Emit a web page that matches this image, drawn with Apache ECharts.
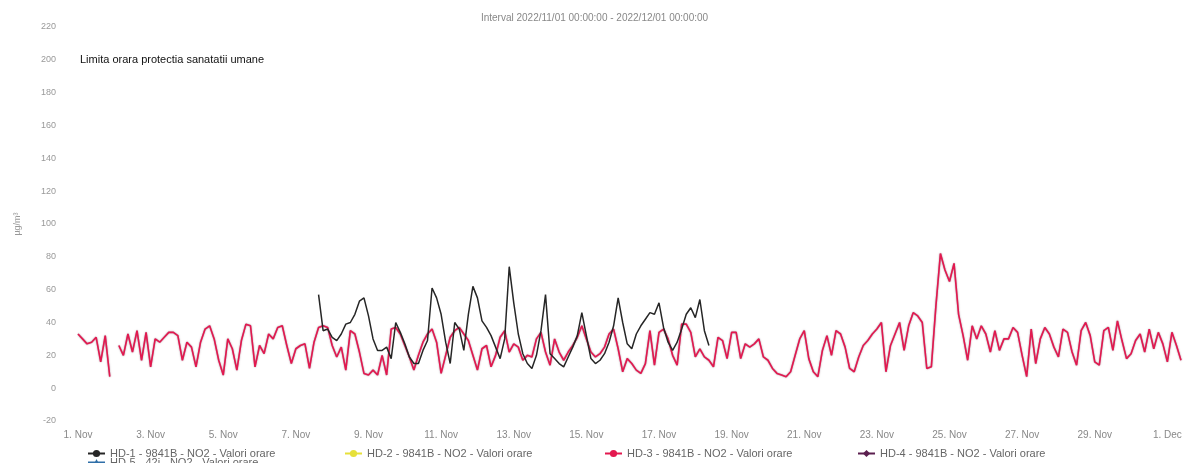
<!DOCTYPE html>
<html>
<head>
<meta charset="utf-8">
<script src="https://cdn.jsdelivr.net/npm/echarts@6/dist/echarts.min.js"></script>
<style>
html,body{margin:0;padding:0;background:#fff;}
#chart{width:1189px;height:463px;}
</style>
</head>
<body>
<div id="chart"></div>
<script>
// Hourly NO2 values sampled every 3 hours from 2022/11/01 00:00
const stepHours = 3;
const tickLabels = ['1. Nov','3. Nov','5. Nov','7. Nov','9. Nov','11. Nov','13. Nov','15. Nov','17. Nov','19. Nov','21. Nov','23. Nov','25. Nov','27. Nov','29. Nov','1. Dec'];
const seriesNames = [
  'HD-1 - 9841B - NO2 - Valori orare',
  'HD-2 - 9841B - NO2 - Valori orare',
  'HD-3 - 9841B - NO2 - Valori orare',
  'HD-4 - 9841B - NO2 - Valori orare',
  'HD-5 - 42i - NO2 - Valori orare'
];
const hd3 = [
  33,30,27,28,31,16,32,7,
  null,26,20,33,22,35,17,34,
  13,30,28,31,34,34,32,17,
  28,25,13,28,36,38,30,17,
  8,30,24,11,29,39,38,13,
  26,21,33,30,37,38,26,15,
  24,26,27,12,28,37,38,37,
  26,19,25,11,35,33,22,9,
  8,11,8,20,8,36,37,33,
  26,19,11,20,28,33,36,28,
  9,20,31,35,37,33,29,20,
  11,24,26,13,20,31,35,22,
  27,25,17,20,19,30,34,22,
  14,30,22,17,22,26,31,38,
  30,22,19,21,25,33,36,24,
  10,18,15,11,9,15,35,14,
  34,36,30,20,14,39,39,34,
  19,24,19,17,13,31,29,18,
  34,34,18,27,25,27,30,19,
  17,12,9,8,7,10,20,30,
  35,18,10,7,23,32,20,35,
  33,25,12,10,19,26,29,33,
  36,40,10,26,33,40,23,38,
  46,44,40,12,13,50,82,72,
  65,76,45,32,17,38,30,38,
  33,22,35,23,30,30,37,34,
  20,7,36,15,30,37,33,25,
  19,36,34,22,14,35,40,32,
  16,14,35,37,23,41,29,18,
  21,29,33,22,36,24,34,27,
  16,34,26,17
];
const hd1Start = 53; // sample index of first HD-1 value
const hd1 = [
  57,35,36,31,29,33,39,40,45,53,
  55,44,30,23,23,25,18,40,34,27,
  19,15,15,23,29,61,55,45,28,15,
  40,36,23,45,62,55,41,37,32,25,
  18,30,74,52,33,21,15,12,20,35,
  57,21,18,15,13,19,25,32,46,32,
  18,15,17,21,28,38,55,40,27,24,
  33,38,42,46,45,52,37,28,23,28,
  36,45,49,43,54,35,26
];
const limitValue = 200;
const limitLabel = 'Limita orara protectia sanatatii umane';
const titleText = 'Interval 2022/11/01 00:00:00 - 2022/12/01 00:00:00';

const hd3Data = hd3.map((v, i) => [i * stepHours, v]);
const hd1Data = hd1.map((v, k) => [(hd1Start + k) * stepHours, v]);
const xMax = (hd3.length - 1) * stepHours;

const colors = ['#262626', '#e6e03a', '#e3184f', '#5b1f4f', '#2f6fa8'];
const font = 'Liberation Sans, Arial, sans-serif';

function legendFor(idx, left, top) {
  return {
    data: [seriesNames[idx]],
    left: left, top: top,
    itemWidth: 17, itemHeight: 9, itemGap: 4,
    padding: 0,
    textStyle: {fontFamily: font, fontSize: 11, color: '#666'}
  };
}

const chart = echarts.init(document.getElementById('chart'));
chart.setOption({
  animation: false,
  backgroundColor: '#fff',
  title: {
    text: titleText, left: 'center', top: 8,
    textStyle: {fontFamily: font, fontSize: 10, fontWeight: 'normal', color: '#888'}
  },
  legend: [
    legendFor(0, 87, 448),
    legendFor(1, 344, 448),
    legendFor(2, 604, 448),
    legendFor(3, 857, 448),
    legendFor(4, 87, 457)
  ],
  grid: {left: 78, right: 8, top: 27, bottom: 42, containLabel: false},
  xAxis: {
    type: 'value', min: 0, max: xMax, interval: 48,
    axisLine: {show: false}, axisTick: {show: false}, splitLine: {show: false},
    axisLabel: {
      fontFamily: font, fontSize: 10, color: '#888', margin: 9,
      showMaxLabel: true,
      formatter: function (v) {
        if (v % 48 !== 0) return '';
        const k = v / 48;
        return tickLabels[k] || '';
      }
    }
  },
  yAxis: {
    type: 'value', min: -20, max: 220, interval: 20,
    name: 'µg/m³', nameLocation: 'middle', nameGap: 56, nameRotate: 90,
    nameTextStyle: {fontFamily: font, fontSize: 9, color: '#999'},
    axisLine: {show: false}, axisTick: {show: false}, splitLine: {show: false},
    axisLabel: {fontFamily: font, fontSize: 9, color: '#999', margin: 22}
  },
  series: [
    {
      name: seriesNames[0], type: 'line', data: hd1Data, color: colors[0],
      symbol: 'circle', symbolSize: 6, showSymbol: false, connectNulls: false,
      lineStyle: {width: 1.5, color: colors[0]}, z: 3
    },
    {
      name: seriesNames[1], type: 'line', data: [], color: colors[1],
      symbol: 'circle', symbolSize: 6, showSymbol: false
    },
    {
      name: seriesNames[2], type: 'line', data: hd3Data, color: colors[2],
      symbol: 'circle', symbolSize: 6, showSymbol: false, connectNulls: false,
      lineStyle: {width: 1.6, color: colors[2], shadowColor: 'rgba(70,10,40,0.55)', shadowBlur: 1.5},
      z: 2,
      markLine: {
        silent: true, symbol: 'none',
        lineStyle: {color: 'rgba(255,255,255,0)', width: 1, type: 'solid'},
        label: {
          show: true, position: 'insideStartTop', distance: -6,
          padding: [0, 0, 0, 8],
          formatter: limitLabel,
          fontFamily: font, fontSize: 11, color: '#111'
        },
        data: [{yAxis: limitValue}]
      }
    },
    {
      name: seriesNames[3], type: 'line', data: [], color: colors[3],
      symbol: 'diamond', symbolSize: 7, showSymbol: false
    },
    {
      name: seriesNames[4], type: 'line', data: [], color: colors[4],
      symbol: 'triangle', symbolSize: 6, showSymbol: false
    }
  ]
});
</script>
</body>
</html>
